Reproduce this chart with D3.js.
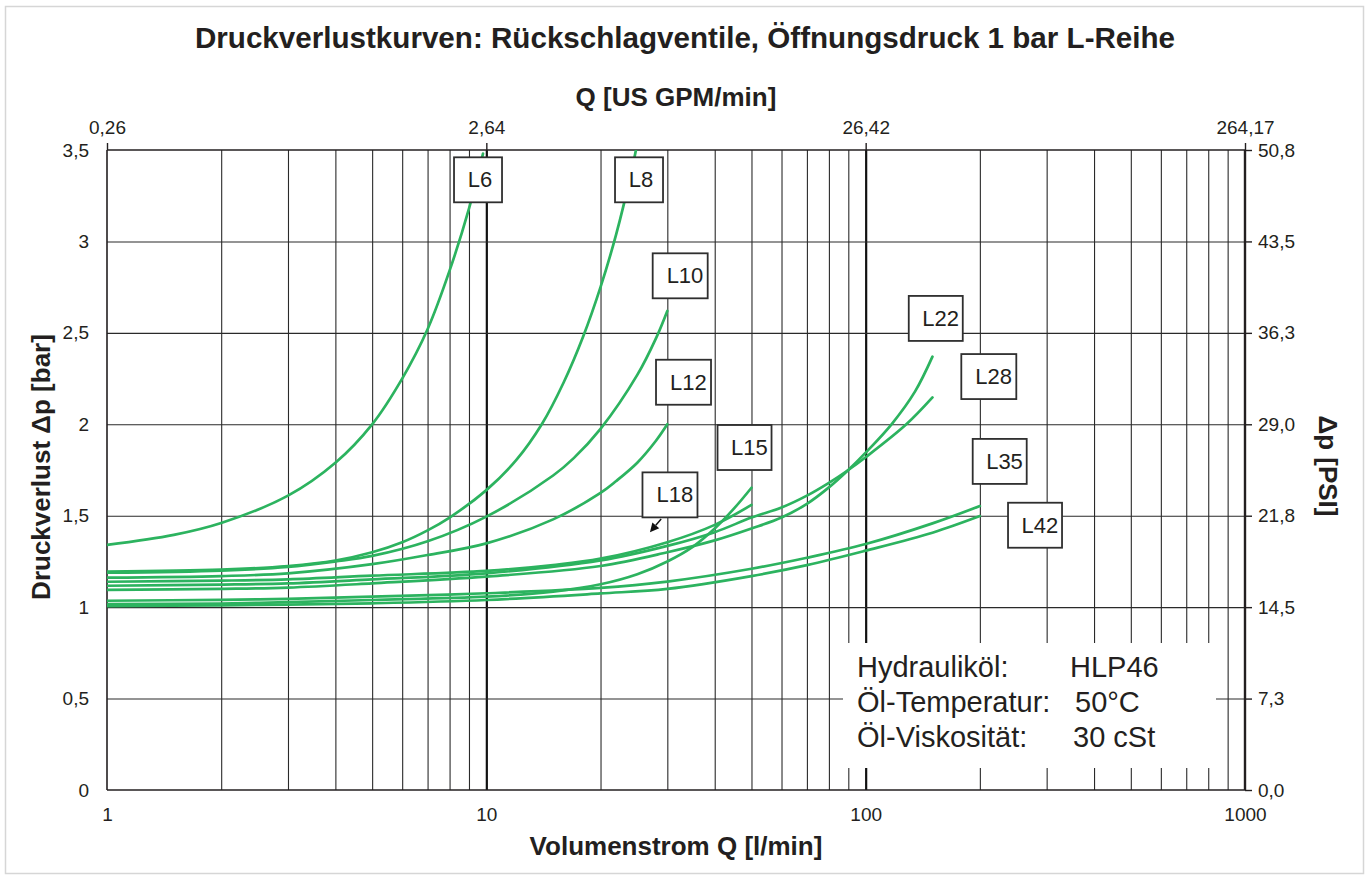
<!DOCTYPE html>
<html><head><meta charset="utf-8">
<script src="https://cdn.jsdelivr.net/npm/d3@7/dist/d3.min.js"></script>
<style>
body{margin:0;background:#fff}
svg{display:block}
text{font-family:"Liberation Sans",Arial,Helvetica,sans-serif;fill:#231f20}
</style>
</head><body>
<svg id="chart" width="1370" height="880"></svg>
<script>
// ---------------- data ----------------
const seriesNames = ["L6","L8","L10","L12","L15","L18","L22","L28","L35","L42"];

const L6_Q  = [1, 1.5, 2, 3, 4, 5, 6, 7, 8, 9, 9.8];
const L6_dp = [1.34, 1.395, 1.46, 1.61, 1.79, 2.0, 2.25, 2.52, 2.84, 3.18, 3.48];

const L8_Q  = [1, 2, 3, 4, 5, 6, 7, 8, 10, 12, 14, 16, 18, 20, 22, 24, 24.8];
const L8_dp = [1.195, 1.205, 1.225, 1.255, 1.30, 1.355, 1.42, 1.49, 1.64, 1.805, 2.0, 2.23, 2.48, 2.75, 3.04, 3.36, 3.5];

const L10_Q  = [1, 2, 3, 4, 5, 7, 10, 15, 17, 20, 25, 28, 30];
const L10_dp = [1.188, 1.20, 1.22, 1.25, 1.28, 1.36, 1.495, 1.72, 1.815, 1.975, 2.27, 2.47, 2.62];

const L12_Q  = [1, 2, 3, 5, 7, 10, 15, 20, 22, 25, 28, 30];
const L12_dp = [1.161, 1.17, 1.185, 1.235, 1.285, 1.349, 1.48, 1.625, 1.69, 1.79, 1.91, 2.0];

const L15_Q  = [1, 2, 3, 5, 10, 15, 20, 25, 30, 35, 40, 45, 50];
const L15_dp = [1.017, 1.02, 1.027, 1.039, 1.057, 1.085, 1.125, 1.18, 1.25, 1.33, 1.43, 1.54, 1.653];

const L18_Q  = [1, 2, 3, 5, 10, 15, 20, 30, 40, 50];
const L18_dp = [1.139, 1.145, 1.152, 1.172, 1.198, 1.23, 1.265, 1.355, 1.45, 1.559];

const L22_Q  = [1, 2, 3, 5, 10, 20, 30, 40, 50, 60, 70, 80, 90, 100, 117, 135, 150];
const L22_dp = [1.094, 1.10, 1.107, 1.13, 1.167, 1.225, 1.30, 1.365, 1.43, 1.49, 1.565, 1.655, 1.75, 1.845, 2.0, 2.18, 2.37];

const L28_Q  = [1, 2, 3, 5, 10, 20, 30, 40, 50, 60, 70, 80, 90, 100, 128, 150];
const L28_dp = [1.117, 1.123, 1.13, 1.152, 1.185, 1.255, 1.335, 1.41, 1.49, 1.545, 1.61, 1.68, 1.75, 1.82, 2.0, 2.147];

const L35_Q  = [1, 2, 3, 5, 10, 20, 30, 50, 70, 100, 150, 200];
const L35_dp = [1.035, 1.04, 1.045, 1.057, 1.076, 1.105, 1.14, 1.21, 1.27, 1.345, 1.458, 1.553];

const L42_Q  = [1, 2, 3, 5, 10, 20, 30, 50, 70, 100, 150, 200];
const L42_dp = [1.006, 1.01, 1.014, 1.021, 1.039, 1.075, 1.10, 1.17, 1.23, 1.309, 1.407, 1.498];

// label box anchors (top-left corner in data units)
const labelQ = [8.219, 21.84, 27.45, 28.01, 40.69, 25.80, 129.9, 178.7, 191.5, 237.3];
const labelP = [3.460, 3.460, 2.935, 2.353, 1.996, 1.737, 2.702, 2.384, 1.920, 1.571];

// axis ticks
const xTicks      = [1, 10, 100, 1000];
const xTickLabels = ["1", "10", "100", "1000"];
const gpmLabels   = ["0,26", "2,64", "26,42", "264,17"];
const yTicks      = [0, 0.5, 1, 1.5, 2, 2.5, 3, 3.5];
const yTickLabels = ["0", "0,5", "1", "1,5", "2", "2,5", "3", "3,5"];
const psiLabels   = ["0,0", "7,3", "14,5", "21,8", "29,0", "36,3", "43,5", "50,8"];
const minorX = [2,3,4,5,6,7,8,9,20,30,40,50,60,70,80,90,200,300,400,500,600,700,800,900];
const decadeX = [10, 100];

const infoLeft  = ["Hydrauliköl:", "Öl-Temperatur:", "Öl-Viskosität:"];
const infoRight = ["HLP46", "50°C", "30 cSt"];

// ---------------- layout ----------------
const L = 107, R = 1245, T = 150, B = 790;
const green = "#2cb35f", ink = "#231f20";

const svg = d3.select("#chart");
const x = d3.scaleLog().domain([1, 1000]).range([L, R]);
const y = d3.scaleLinear().domain([0, 3.5]).range([B, T]);

// outer frame
svg.append("rect").attr("x", 5.5).attr("y", 6.5).attr("width", 1358).attr("height", 867)
  .attr("fill", "#fff").attr("stroke", "#d6d6d6").attr("stroke-width", 1.5);

// titles
svg.append("text").attr("x", 685).attr("y", 48).attr("text-anchor", "middle")
  .attr("font-size", 29.6).attr("font-weight", "bold").text("Druckverlustkurven: Rückschlagventile, Öffnungsdruck 1 bar L-Reihe");
svg.append("text").attr("x", 676).attr("y", 106).attr("text-anchor", "middle")
  .attr("font-size", 26).attr("font-weight", "bold").text("Q [US GPM/min]");
svg.append("text").attr("x", 676).attr("y", 855).attr("text-anchor", "middle")
  .attr("font-size", 26).attr("font-weight", "bold").text("Volumenstrom Q [l/min]");
svg.append("text").attr("transform", "translate(50,467) rotate(-90)").attr("text-anchor", "middle")
  .attr("font-size", 26).attr("font-weight", "bold").text("Druckverlust \u0394p [bar]");
svg.append("text").attr("transform", "translate(1319,466) rotate(90)").attr("text-anchor", "middle")
  .attr("font-size", 26).attr("font-weight", "bold").text("\u0394p [PSI]");

// grid
const g = svg.append("g");
g.append("g").attr("transform", `translate(0,${B})`)
  .call(d3.axisBottom(x).tickValues(minorX).tickSize(-(B - T)).tickFormat(""))
  .call(s => s.select(".domain").remove())
  .call(s => s.selectAll("line").attr("stroke", "#2a2a2a").attr("stroke-width", 1.1));
g.append("g").attr("transform", `translate(0,${B})`)
  .call(d3.axisBottom(x).tickValues(decadeX).tickSize(-(B - T)).tickFormat(""))
  .call(s => s.select(".domain").remove())
  .call(s => s.selectAll("line").attr("stroke", "#111").attr("stroke-width", 2.2));
g.append("g").attr("transform", `translate(${L},0)`)
  .call(d3.axisLeft(y).tickValues([0.5, 1, 1.5, 2, 2.5, 3]).tickSize(-(R - L)).tickFormat(""))
  .call(s => s.select(".domain").remove())
  .call(s => s.selectAll("line").attr("stroke", "#2a2a2a").attr("stroke-width", 1.1));

// info box
svg.append("rect").attr("x", 843).attr("y", 643).attr("width", 373).attr("height", 125).attr("fill", "#fff");
const infoY = [677, 712, 747];
const infoRX = [1070, 1075, 1073];
infoLeft.forEach((t, i) => {
  svg.append("text").attr("x", 857).attr("y", infoY[i]).attr("font-size", 29).text(t);
  svg.append("text").attr("x", infoRX[i]).attr("y", infoY[i]).attr("font-size", 29).text(infoRight[i]);
});

// axes frame lines
const fr = svg.append("g").attr("stroke", ink).attr("fill", "none");
fr.append("line").attr("x1", x(1)).attr("x2", x(1)).attr("y1", T).attr("y2", B).attr("stroke-width", 1.6);
fr.append("line").attr("x1", x(1000)).attr("x2", x(1000)).attr("y1", T).attr("y2", B).attr("stroke-width", 2.4);
fr.append("line").attr("x1", L).attr("x2", R).attr("y1", y(3.5)).attr("y2", y(3.5)).attr("stroke-width", 1.6);
fr.append("line").attr("x1", L).attr("x2", R).attr("y1", y(0)).attr("y2", y(0)).attr("stroke-width", 1.6);

// axes with labels
const styleAxis = s => {
  s.select(".domain").remove();
  s.selectAll("line").attr("stroke", ink).attr("stroke-width", 1.4);
  s.selectAll("text").attr("font-size", 19).attr("fill", ink)
    .style("font-family", '"Liberation Sans",Arial,sans-serif');
};
svg.append("g").attr("transform", `translate(0,${B})`)
  .call(d3.axisBottom(x).tickValues(xTicks).tickSize(0).tickPadding(18).tickFormat((d, i) => xTickLabels[i]))
  .call(styleAxis);
svg.append("g").attr("transform", `translate(0,${T})`)
  .call(d3.axisTop(x).tickValues(xTicks).tickSize(7).tickPadding(9).tickFormat((d, i) => gpmLabels[i]))
  .call(styleAxis);
svg.append("g").attr("transform", `translate(${L},0)`)
  .call(d3.axisLeft(y).tickValues(yTicks).tickSize(0).tickPadding(18).tickFormat((d, i) => yTickLabels[i]))
  .call(styleAxis);
svg.append("g").attr("transform", `translate(${R},0)`)
  .call(d3.axisRight(y).tickValues(yTicks).tickSize(7).tickPadding(6).tickFormat((d, i) => psiLabels[i]))
  .call(styleAxis);

// curves
const seriesQ  = [L6_Q, L8_Q, L10_Q, L12_Q, L15_Q, L18_Q, L22_Q, L28_Q, L35_Q, L42_Q];
const seriesDp = [L6_dp, L8_dp, L10_dp, L12_dp, L15_dp, L18_dp, L22_dp, L28_dp, L35_dp, L42_dp];
const line = d3.line().x(d => x(d[0])).y(d => y(d[1])).curve(d3.curveCatmullRom.alpha(0.5));
svg.append("defs").append("clipPath").attr("id", "clip")
  .append("rect").attr("x", L).attr("y", T).attr("width", R - L).attr("height", B - T);
svg.append("g").attr("clip-path", "url(#clip)").selectAll("path")
  .data(seriesNames.map((n, i) => ({ name: n, pts: seriesQ[i].map((q, j) => [q, seriesDp[i][j]]) })))
  .join("path")
  .attr("d", d => line(d.pts))
  .attr("fill", "none").attr("stroke", green).attr("stroke-width", 2.7)
  .attr("stroke-linecap", "round");

// label boxes
const boxW = [48, 48, 55, 55, 54, 55, 54, 55, 54, 54], boxH = 45;
const lb = svg.append("g");
seriesNames.forEach((n, i) => {
  const bx = x(labelQ[i]), by = y(labelP[i]);
  lb.append("rect").attr("x", bx).attr("y", by).attr("width", boxW[i]).attr("height", boxH)
    .attr("fill", "#fff").attr("stroke", "#2f2f2f").attr("stroke-width", 1.8);
  const off = n.length === 2 ? 2 : 4.8;
  lb.append("text").attr("x", bx + boxW[i] / 2 + off).attr("y", by + boxH / 2 + 7.5)
    .attr("text-anchor", "middle").attr("font-size", 22).text(n);
});

// arrow for L18
const arrowFrom = [28.9, 1.482], arrowTo = [27.0, 1.41];
const ax1 = x(arrowFrom[0]), ay1 = y(arrowFrom[1]), ax2 = x(arrowTo[0]), ay2 = y(arrowTo[1]);
const ang = Math.atan2(ay2 - ay1, ax2 - ax1);
const hl = 9, hw = 4.5;
const bxp = ax2 - hl * Math.cos(ang), byp = ay2 - hl * Math.sin(ang);
svg.append("line").attr("x1", ax1).attr("y1", ay1).attr("x2", bxp).attr("y2", byp)
  .attr("stroke", "#111").attr("stroke-width", 1.4);
svg.append("path").attr("fill", "#111")
  .attr("d", `M${ax2},${ay2} L${bxp + hw * Math.sin(ang)},${byp - hw * Math.cos(ang)} L${bxp - hw * Math.sin(ang)},${byp + hw * Math.cos(ang)} Z`);
</script>
</body></html>
